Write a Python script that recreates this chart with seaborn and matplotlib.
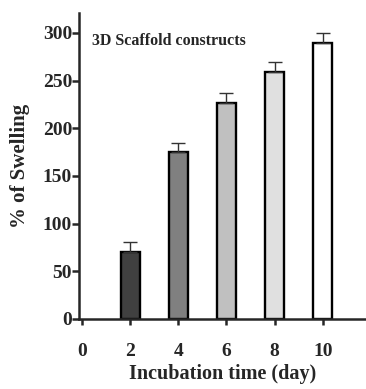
import numpy as np
import pandas as pd
import matplotlib
matplotlib.use("Agg")
import matplotlib.pyplot as plt
import seaborn as sns

# data
days = [2, 4, 6, 8, 10]
swelling = [70, 175, 226, 259, 289]
sem = [11, 10, 11, 10, 11]
bar_colors = ["#404040", "#808080", "#c0c0c0", "#e0e0e0", "#ffffff"]
x_ticks = [0, 2, 4, 6, 8, 10]
y_ticks = [0, 50, 100, 150, 200, 250, 300]

df = pd.DataFrame({"day": days, "swelling": swelling})

sns.set_style("ticks")
plt.rcParams["font.family"] = ["Liberation Serif", "DejaVu Serif"]
plt.rcParams["font.weight"] = "bold"

fig = plt.figure(figsize=(3.66, 3.89), dpi=100)
ax = fig.add_axes([0.216, 0.18, 0.784, 0.787])

sns.barplot(data=df, x="day", y="swelling", hue="day", palette=bar_colors,
            native_scale=True, width=0.4, dodge=False, legend=False,
            errorbar=None, edgecolor="black", linewidth=1.7, ax=ax)

# upper error bars only
ax.errorbar(days, swelling, yerr=[np.zeros(len(sem)), sem], fmt="none",
            ecolor="#333333", elinewidth=1.0, capsize=5, capthick=1.0, zorder=1)

ax.set_xlim(-0.13, 11.8)
ax.set_ylim(0, 321)
ax.set_xticks(x_ticks)
ax.set_yticks(y_ticks)
ax.set_xticklabels([str(t) for t in x_ticks], fontsize=14, fontweight="bold")
ax.set_yticklabels([str(t) for t in y_ticks], fontsize=14, fontweight="bold")
ax.tick_params(axis="x", width=1.8, length=4, pad=13)
ax.tick_params(axis="y", width=1.8, length=5, pad=0)

for s in ["left", "bottom"]:
    ax.spines[s].set_linewidth(1.8)
sns.despine(ax=ax)

ax.set_xlabel("Incubation time (day)", fontsize=14.5, fontweight="bold", labelpad=3)
ax.set_ylabel("% of Swelling", fontsize=15, fontweight="bold", labelpad=9)
ax.text(0.4, 291, "3D Scaffold constructs", fontsize=11.5, fontweight="bold", va="center")

fig.savefig("out.png", dpi=100)
